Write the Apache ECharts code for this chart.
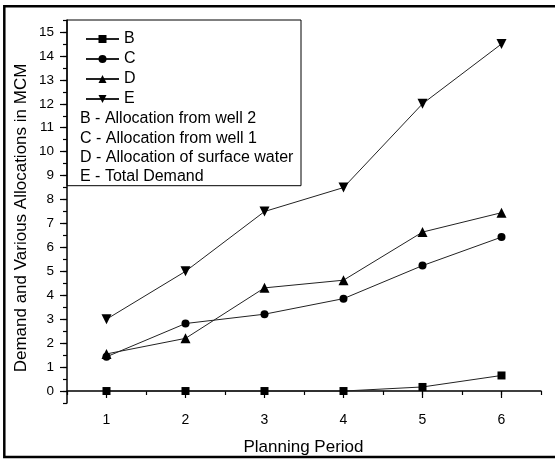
<!DOCTYPE html>
<html>
<head>
<meta charset="utf-8">
<script src="https://cdn.jsdelivr.net/npm/echarts@6/dist/echarts.min.js"></script>
<style>html,body{margin:0;padding:0;background:#fff}#c{width:555px;height:459px}</style>
</head>
<body>
<div id="c"></div>
<script>
const periods = [1, 2, 3, 4, 5, 6];
const seriesB = [0, 0, 0, 0, 0.17, 0.65];
const seriesC = [1.43, 2.82, 3.21, 3.86, 5.24, 6.43];
const seriesD = [1.55, 2.2, 4.31, 4.63, 6.64, 7.45];
const seriesE = [3, 5, 7.5, 8.5, 12, 14.5];
const xTicks = [1, 2, 3, 4, 5, 6];
const yTicks = [0,1,2,3,4,5,6,7,8,9,10,11,12,13,14,15];
const legendNotes = [
  'B - Allocation from well 2',
  'C - Allocation from well 1',
  'D - Allocation of surface water',
  'E - Total Demand'
];
const xTitle = 'Planning Period';
const yTitle = 'Demand and Various Allocations in MCM';

const FONT = 'Liberation Sans, Arial, sans-serif';
const chart = echarts.init(document.getElementById('c'), null, {renderer: 'canvas'});

function pairs(vals) { return periods.map((p, i) => [p, vals[i]]); }
function mk(name, vals, symbol, size, rot) {
  return {
    name: name, type: 'line', data: pairs(vals),
    xAxisIndex: 0, yAxisIndex: 0,
    symbol: symbol, symbolSize: size, symbolRotate: rot || 0,
    showSymbol: true,
    lineStyle: {color: '#222', width: 1},
    itemStyle: {color: '#000'},
    animation: false, z: 3
  };
}

const noteTexts = legendNotes.map((t, i) => ({
  type: 'text', left: 80, top: 111 + i * 19.2,
  style: {text: t, font: '16px ' + FONT, fill: '#000'}
}));

chart.setOption({
  animation: false,
  grid: {left: 67, right: 14, top: 20, bottom: 56, containLabel: false},
  xAxis: [{
    type: 'value', min: 0.5, max: 6.5, interval: 0.5,
    axisLine: {show: true, lineStyle: {color: '#000', width: 1.5}},
    axisTick: {show: true, length: 7, customValues: xTicks, lineStyle: {color: '#000', width: 1.2}},
    axisLabel: {customValues: xTicks, margin: 10, color: '#000', fontSize: 14, fontFamily: FONT},
    splitLine: {show: false}
  }, {
    type: 'value', min: 0.5, max: 6.5, interval: 0.5, position: 'bottom',
    axisLine: {show: false},
    axisTick: {show: true, length: 4, lineStyle: {color: '#000', width: 1.2}},
    axisLabel: {show: false},
    splitLine: {show: false}
  }],
  yAxis: [{
    type: 'value', min: -0.5, max: 15.5, interval: 0.5, position: 'left',
    axisLine: {show: true, lineStyle: {color: '#000', width: 1.5}},
    axisTick: {show: true, length: 7, customValues: yTicks, lineStyle: {color: '#000', width: 1.2}},
    axisLabel: {customValues: yTicks, margin: 13, color: '#000', fontSize: 13.5, fontFamily: FONT},
    splitLine: {show: false}
  }, {
    type: 'value', min: -0.5, max: 15.5, interval: 0.5, position: 'left', offset: 0,
    axisLine: {show: false},
    axisTick: {show: true, length: 4, lineStyle: {color: '#000', width: 1.2}},
    axisLabel: {show: false},
    splitLine: {show: false}
  }],
  legend: {
    orient: 'vertical', left: 80, top: 26,
    itemWidth: 33, itemHeight: 10, itemGap: 4,
    textStyle: {fontSize: 16, fontFamily: FONT, color: '#000'},
    data: ['B', 'C', 'D', 'E']
  },
  series: [
    mk('B', seriesB, 'rect', 8),
    mk('C', seriesC, 'circle', 8),
    mk('D', seriesD, 'triangle', 10),
    mk('E', seriesE, 'triangle', 10, 180)
  ],
  graphic: [
    {type: 'rect', shape: {x: 4.3, y: 6.3, width: 600, height: 450.7},
     style: {fill: 'none', stroke: '#000', lineWidth: 2.5}, silent: true},
    {type: 'rect', shape: {x: 67, y: 20, width: 234, height: 165.7},
     style: {fill: 'none', stroke: '#000', lineWidth: 1}, silent: true}
  ].concat(noteTexts).concat([
    {type: 'text', x: 303.5, y: 447, style: {text: xTitle, font: '17px ' + FONT, fill: '#000', textAlign: 'center', textVerticalAlign: 'middle'}},
    {type: 'text', x: 21, y: 218, rotation: Math.PI / 2, style: {text: yTitle, font: '17px ' + FONT, fill: '#000', textAlign: 'center', textVerticalAlign: 'middle'}}
  ])
});
</script>
</body>
</html>
